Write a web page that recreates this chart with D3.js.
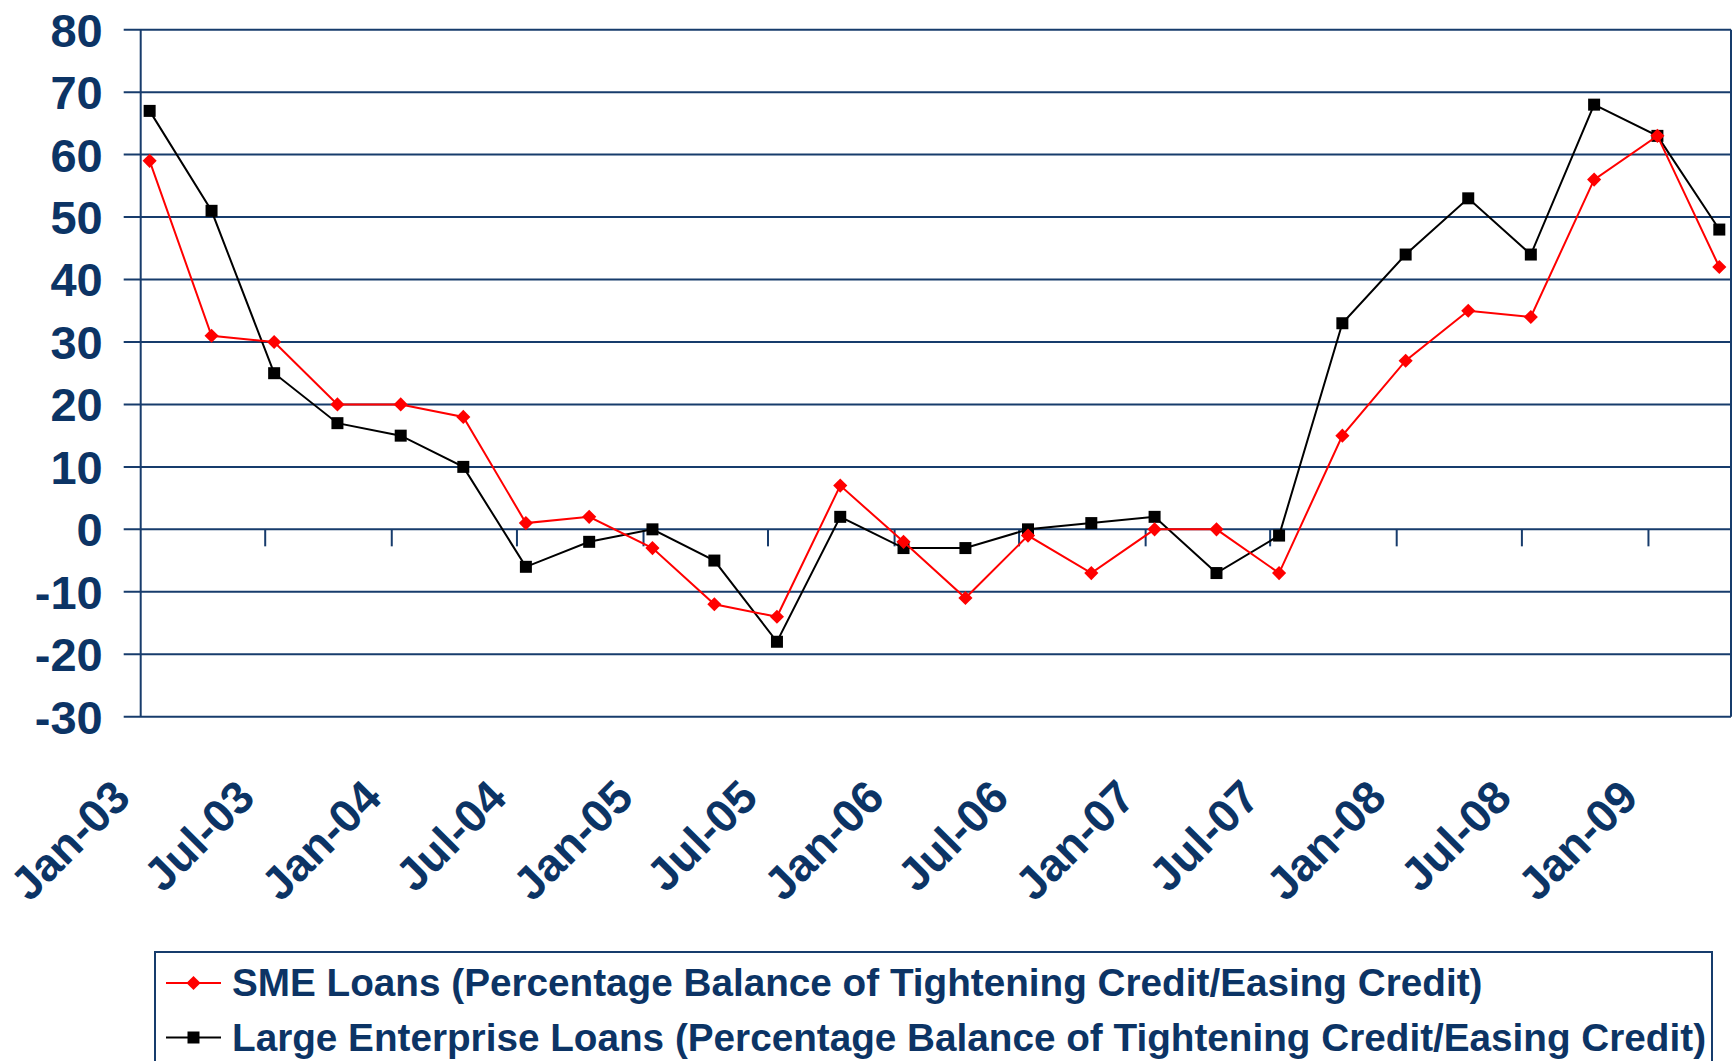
<!DOCTYPE html>
<html lang="en">
<head>
<meta charset="UTF-8">
<title>SME and Large Enterprise Loans - Credit Balance</title>
<script src="https://d3js.org/d3.v7.min.js"></script>
<style>
    body { margin: 0; background: #fff; }
    text { font-family: "Liberation Sans", Arial, sans-serif; font-weight: bold; fill: #0c3465; }
</style>
</head>
<body>
<div id="chart"></div>
<script>
// quarterly survey dates
const dates = [
    "2003-01-14", "2003-04-14", "2003-07-14", "2003-10-14",
    "2004-01-14", "2004-04-14", "2004-07-14", "2004-10-14",
    "2005-01-14", "2005-04-14", "2005-07-14", "2005-10-14",
    "2006-01-14", "2006-04-14", "2006-07-14", "2006-10-14",
    "2007-01-14", "2007-04-14", "2007-07-14", "2007-10-14",
    "2008-01-14", "2008-04-14", "2008-07-14", "2008-10-14",
    "2009-01-14", "2009-04-14"
];
const smeLoans = [59, 31, 30, 20, 20, 18, 1, 2, -3, -12, -14, 7, -2, -11, -1, -7, 0, 0, -7, 15, 27, 35, 34, 56, 63, 42];
const largeLoans = [67, 51, 25, 17, 15, 10, -6, -2, 0, -5, -18, 2, -3, -3, 0, 1, 2, -7, -1, 33, 44, 53, 44, 68, 63, 48];

const yTicks = [-30, -20, -10, 0, 10, 20, 30, 40, 50, 60, 70, 80];
const tickDates = ["2003-01-01", "2003-07-01", "2004-01-01", "2004-07-01", "2005-01-01", "2005-07-01",
                   "2006-01-01", "2006-07-01", "2007-01-01", "2007-07-01", "2008-01-01", "2008-07-01", "2009-01-01"];
const tickLabels = ["Jan-03", "Jul-03", "Jan-04", "Jul-04", "Jan-05", "Jul-05",
                    "Jan-06", "Jul-06", "Jan-07", "Jul-07", "Jan-08", "Jul-08", "Jan-09"];
const seriesNames = [
    "SME Loans (Percentage Balance of Tightening Credit/Easing Credit)",
    "Large Enterprise Loans (Percentage Balance of Tightening Credit/Easing Credit)"
];

const navy = "#173c6c";
const parse = d3.timeParse("%Y-%m-%d");

const margin = {top: 29.7, right: 4, bottom: 344.3, left: 140.7};
const width = 1735 - margin.left - margin.right,
      height = 1061 - margin.top - margin.bottom;

const svg = d3.select("#chart").append("svg")
    .attr("width", 1735)
    .attr("height", 1061);

const g = svg.append("g")
    .attr("transform", `translate(${margin.left},${margin.top})`);

const x = d3.scaleTime()
    .domain([parse("2003-01-01"), parse("2009-05-01")])
    .range([0, width]);

const y = d3.scaleLinear()
    .domain([-30, 80])
    .range([height, 0]);

// horizontal gridlines, with small stubs left of the axis
g.selectAll(".grid")
    .data(yTicks)
    .enter().append("line")
    .attr("x1", -17)
    .attr("x2", width)
    .attr("y1", d => y(d))
    .attr("y2", d => y(d))
    .attr("stroke", navy)
    .attr("stroke-width", 2);

// y axis line and right border
g.append("line").attr("x1", 0).attr("x2", 0).attr("y1", 0).attr("y2", height)
    .attr("stroke", navy).attr("stroke-width", 2);
g.append("line").attr("x1", width).attr("x2", width).attr("y1", 0).attr("y2", height)
    .attr("stroke", navy).attr("stroke-width", 2);

// y tick labels
g.selectAll(".ylabel")
    .data(yTicks)
    .enter().append("text")
    .attr("x", -38)
    .attr("y", d => y(d))
    .attr("dy", "0.36em")
    .attr("text-anchor", "end")
    .style("font-size", "47px")
    .text(d => d);

// tick marks hanging from the zero line
g.selectAll(".xtick")
    .data(tickDates.slice(1))
    .enter().append("line")
    .attr("x1", d => x(parse(d)))
    .attr("x2", d => x(parse(d)))
    .attr("y1", y(0))
    .attr("y2", y(0) + 17)
    .attr("stroke", navy)
    .attr("stroke-width", 2);

// rotated date labels
g.selectAll(".xlabel")
    .data(tickDates)
    .enter().append("text")
    .attr("text-anchor", "end")
    .attr("transform", d => `translate(${x(parse(d)) - 8},${800 - margin.top}) rotate(-45)`)
    .style("font-size", "46px")
    .text((d, i) => tickLabels[i]);

// series
const series = [
    {name: seriesNames[0], values: smeLoans, color: "#ff0000", shape: "diamond"},
    {name: seriesNames[1], values: largeLoans, color: "#000000", shape: "square"}
];

const line = d3.line()
    .x((d, i) => x(parse(dates[i])))
    .y(d => y(d));

function marker(sel, shape) {
    if (shape === "diamond") {
        sel.attr("d", d3.symbol().type(d3.symbolSquare).size(100)());
        sel.attr("transform", function() { return d3.select(this).attr("transform") + " rotate(45)"; });
    } else {
        sel.attr("d", d3.symbol().type(d3.symbolSquare).size(144)());
    }
}

// draw black first so red sits on top like the original
[series[1], series[0]].forEach(s => {
    g.append("path")
        .datum(s.values)
        .attr("fill", "none")
        .attr("stroke", s.color)
        .attr("stroke-width", 2)
        .attr("d", line);

    g.selectAll(null)
        .data(s.values)
        .enter().append("path")
        .attr("fill", s.color)
        .attr("transform", (d, i) => `translate(${x(parse(dates[i]))},${y(d)})`)
        .call(marker, s.shape);
});

// legend box, runs past the bottom of the picture
svg.append("rect")
    .attr("x", 155)
    .attr("y", 952)
    .attr("width", 1557)
    .attr("height", 140)
    .attr("fill", "none")
    .attr("stroke", navy)
    .attr("stroke-width", 2);

const legend = svg.selectAll(".legend")
    .data(series)
    .enter().append("g")
    .attr("transform", (d, i) => `translate(0,${996 + i * 54.5})`);

legend.append("line")
    .attr("x1", 166).attr("x2", 221)
    .attr("y1", -13).attr("y2", -13)
    .attr("stroke", d => d.color)
    .attr("stroke-width", 2);

legend.append("path")
    .attr("fill", d => d.color)
    .attr("transform", "translate(193.5,-13)")
    .each(function(d) { d3.select(this).call(marker, d.shape); });

legend.append("text")
    .attr("x", 232)
    .attr("y", 0)
    .style("font-size", "38.7px")
    .text(d => d.name);
</script>
</body>
</html>
